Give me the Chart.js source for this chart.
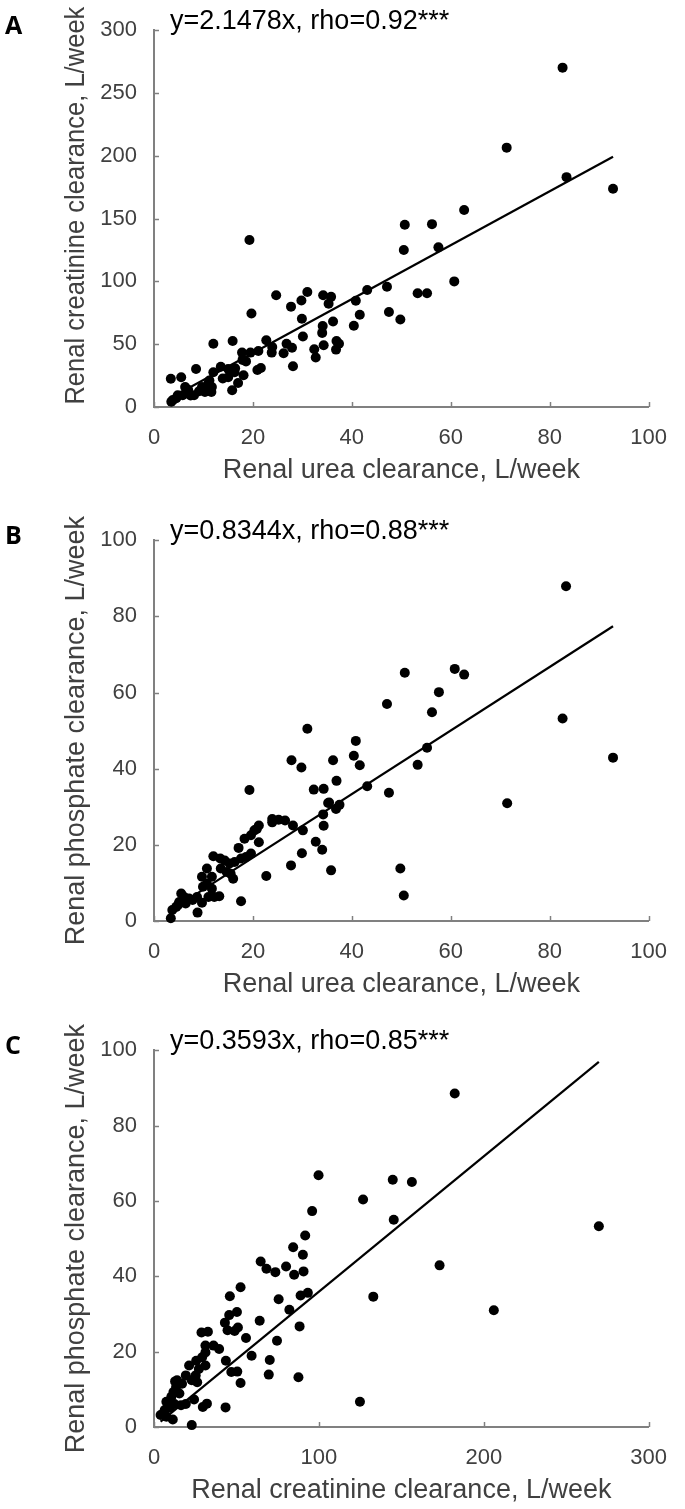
<!DOCTYPE html>
<html>
<head>
<meta charset="utf-8">
<script src="https://cdn.jsdelivr.net/npm/chart.js@4.4.1/dist/chart.umd.min.js"></script>
<style>
    html, body { margin: 0; padding: 0; background: #fff; }
    body { width: 685px; height: 1509px; position: relative; overflow: hidden; }
    canvas { position: absolute; left: 0; }
</style>
</head>
<body>
<canvas id="chart-a" width="685" height="500" style="top:0px"></canvas>
<canvas id="chart-b" width="685" height="500" style="top:510px"></canvas>
<canvas id="chart-c" width="685" height="489" style="top:1020px"></canvas>
<script>
/**
 * data (L/week)
 */
// panel A: urea (x) vs creatinine (y)
const ureaA = [83.4, 92.8, 82.6, 71.3, 62.7, 50.7, 56.2, 50.5, 57.5, 60.7, 53.3, 55.2, 47.1, 47.5, 49.8, 43.1, 40.8, 41.6, 40.4, 31.0,
    29.8, 34.2, 35.8, 35.3, 29.9, 36.2, 34.1, 34.0, 30.1, 36.9, 37.4, 36.8, 34.3, 32.4, 32.7, 28.1, 19.3, 24.7, 27.7, 19.7,
    26.8, 27.9, 26.2, 22.7, 23.9, 23.8, 21.1, 19.5, 20.9, 21.6, 15.9, 12.0, 17.8, 18.6, 17.9, 16.4, 18.1, 17.0, 15.8, 16.3,
    15.0, 13.5, 13.9, 15.0, 12.0, 8.5, 11.2, 11.7, 11.0, 11.6, 10.3, 9.1, 8.1, 7.4, 6.3, 5.5, 3.4, 5.8, 4.8, 3.8,
    3.5, 4.5, 6.9, 9.7];
const creatA = [183.0, 173.8, 270.2, 206.5, 156.9, 145.1, 145.6, 125.0, 127.1, 100.0, 90.6, 90.6, 95.8, 75.7, 69.7, 93.2, 84.6, 73.4, 64.7, 91.6,
    84.8, 89.0, 87.7, 82.2, 70.2, 68.1, 64.5, 59.0, 56.1, 52.5, 50.4, 45.7, 49.1, 46.0, 39.4, 32.4, 133.0, 89.0, 79.9, 74.4,
    50.4, 47.2, 42.8, 53.2, 47.8, 43.3, 44.6, 43.3, 29.5, 31.1, 52.5, 50.4, 43.3, 36.3, 37.5, 30.8, 25.3, 19.1, 13.3, 27.7,
    30.3, 32.1, 22.7, 23.7, 27.6, 30.3, 21.1, 15.9, 18.6, 12.0, 12.0, 12.5, 9.4, 9.1, 15.9, 23.7, 22.5, 9.4, 9.4, 5.5,
    4.2, 7.0, 13.7, 15.9];

// panel B: urea (x) vs phosphate (y)
const ureaB = [83.3, 92.8, 82.6, 50.7, 60.8, 62.7, 57.6, 47.1, 56.2, 40.8, 40.4, 55.2, 36.2, 31.0, 41.6, 29.8, 53.3, 36.9, 32.3, 34.3,
    43.1, 47.5, 35.4, 37.5, 36.8, 34.2, 71.4, 30.1, 34.3, 32.7, 34.0, 29.9, 35.8, 49.8, 50.5, 27.8, 19.3, 35.2, 23.9, 25.2,
    26.5, 28.1, 23.9, 27.7, 22.7, 21.2, 20.8, 20.3, 19.6, 21.2, 18.3, 17.1, 19.6, 18.6, 17.6, 16.3, 15.3, 14.3, 13.4, 12.0,
    13.5, 14.7, 15.5, 16.0, 11.7, 10.7, 9.7, 10.7, 9.9, 11.7, 13.2, 12.2, 11.0, 9.7, 8.7, 7.8, 8.8, 17.6, 7.1, 6.1,
    5.5, 5.1, 4.5, 3.7, 3.4, 4.9, 6.4];
const phosB = [87.9, 42.9, 53.2, 65.2, 66.2, 64.7, 60.1, 57.0, 54.8, 47.3, 43.4, 45.5, 42.2, 50.5, 40.9, 40.3, 41.0, 36.8, 34.5, 34.7,
    35.4, 33.7, 31.1, 30.5, 29.4, 28.0, 30.9, 23.8, 25.0, 20.8, 18.7, 17.8, 13.3, 13.8, 6.7, 42.2, 34.4, 31.0, 26.8, 26.6,
    26.4, 25.1, 25.9, 14.6, 11.8, 25.1, 24.2, 23.8, 22.5, 20.7, 21.6, 19.2, 17.7, 16.8, 16.4, 15.5, 15.1, 15.9, 16.4, 17.0,
    13.8, 12.9, 12.4, 11.1, 11.6, 13.8, 11.6, 9.8, 9.0, 8.5, 6.5, 6.3, 6.3, 4.8, 6.3, 5.5, 2.2, 5.2, 5.9, 6.3,
    7.2, 5.0, 3.7, 2.9, 0.7, 4.3, 4.6];

// panel C: creatinine (x) vs phosphate (y)
const creatC = [173.2, 133.0, 206.1, 124.9, 182.4, 144.8, 156.4, 126.8, 145.4, 269.8, 99.8, 95.9, 91.7, 84.4, 90.3, 64.7, 68.2, 73.6, 80.1, 85.0,
    90.7, 88.9, 93.3, 75.6, 82.1, 64.1, 88.3, 74.6, 59.2, 70.2, 69.6, 87.6, 52.5, 46.0, 50.3, 45.6, 43.0, 50.9, 44.6, 48.9,
    55.8, 43.6, 46.9, 50.5, 52.5, 43.4, 36.1, 39.5, 28.8, 32.7, 31.2, 31.2, 29.2, 25.6, 31.2, 27.2, 25.3, 21.3, 19.3, 22.9,
    26.2, 17.0, 14.0, 13.4, 11.8, 15.4, 10.5, 7.5, 9.5, 12.4, 16.4, 19.3, 5.5, 4.0, 7.5, 11.4, 6.5, 9.5, 22.9, 24.3,
    29.6, 32.1, 12.8];
const phosC = [42.9, 34.6, 31.0, 6.7, 88.5, 65.6, 65.0, 60.4, 55.0, 53.3, 66.8, 57.3, 50.8, 47.7, 45.7, 43.9, 42.0, 41.1, 42.6, 40.4,
    41.3, 34.9, 35.6, 33.9, 31.1, 28.2, 26.7, 22.9, 18.9, 17.8, 13.9, 13.2, 37.1, 34.7, 30.5, 29.7, 27.7, 26.4, 25.7, 25.5,
    23.6, 17.6, 14.6, 14.7, 11.7, 5.2, 21.6, 20.7, 25.1, 25.3, 21.6, 19.8, 18.5, 17.6, 16.3, 15.4, 13.7, 16.3, 13.7, 12.4,
    11.9, 11.5, 12.4, 10.6, 9.3, 8.9, 8.0, 6.7, 6.2, 6.1, 5.8, 6.1, 3.6, 3.2, 2.7, 2.0, 4.5, 5.1, 0.5, 7.3,
    5.3, 6.2, 12.1];

// fitted lines, end points as drawn
const fitA = [[3.4, 7.3], [92.8, 199.3]];
const fitB = [[3.4, 2.8], [92.8, 77.4]];
const fitC = [[4.0, 1.4], [269.8, 96.9]];

// ticks
const ticks100 = [0, 20, 40, 60, 80, 100];
const ticks300 = [0, 50, 100, 150, 200, 250, 300];
const ticksCreatX = [0, 100, 200, 300];

const axisGrey = "#808080";
const labelGrey = "#404040";
const fontFamily = "'Liberation Sans', Arial, sans-serif";

// draws inward ticks, titles, equation text and the panel letter
function decoPlugin(p) {
    return {
        id: "deco" + p.letter,
        afterDraw(chart) {
            const { ctx, chartArea: a, scales } = chart;
            ctx.save();
            ctx.strokeStyle = axisGrey;
            ctx.lineWidth = 1.5;
            scales.x.ticks.forEach(t => {
                const px = Math.round(scales.x.getPixelForValue(t.value)) + 0.5;
                ctx.beginPath();
                ctx.moveTo(px, a.bottom);
                ctx.lineTo(px, a.bottom - 5);
                ctx.stroke();
            });
            scales.y.ticks.forEach(t => {
                const py = Math.round(scales.y.getPixelForValue(t.value)) + 0.5;
                ctx.beginPath();
                ctx.moveTo(a.left, py);
                ctx.lineTo(a.left + 5, py);
                ctx.stroke();
            });

            ctx.fillStyle = labelGrey;
            ctx.font = "27px " + fontFamily;
            ctx.textAlign = "center";
            ctx.textBaseline = "middle";
            ctx.fillText(p.xTitle, (a.left + a.right) / 2, a.bottom + 64);

            // y title (A is a bit squeezed and sits higher in the original)
            ctx.save();
            ctx.translate(77, (a.top + a.bottom) / 2 + p.yTitleShift);
            ctx.rotate(-Math.PI / 2);
            ctx.fillText(p.yTitle, 0, 0, p.yTitleMax);
            ctx.restore();

            ctx.fillStyle = "#000";
            ctx.textAlign = "left";
            ctx.fillText(p.note, 170, a.top - 9);

            ctx.font = "bold 25px 'Open Sans', Lato, sans-serif";
            ctx.fillText(p.letter, 5, a.top - 3);
            ctx.restore();
        }
    };
}

function toPoints(xs, ys) {
    return xs.map((x, i) => ({ x: x, y: ys[i] }));
}

function initPanel(p) {
    const ctx = document.getElementById(p.id).getContext("2d");
    const canvasHeight = ctx.canvas.height;

    new Chart(ctx, {
        type: "scatter",
        data: {
            datasets: [
                {
                    type: "line",
                    data: p.fit.map(d => ({ x: d[0], y: d[1] })),
                    borderColor: "#000",
                    borderWidth: 2.2,
                    pointRadius: 0,
                    fill: false,
                    clip: false
                },
                {
                    data: toPoints(p.xs, p.ys),
                    backgroundColor: "#000",
                    borderColor: "#000",
                    borderWidth: 0,
                    pointRadius: 5,
                    clip: false
                }
            ]
        },
        options: {
            responsive: false,
            animation: false,
            devicePixelRatio: 1,
            layout: { padding: { top: p.top, right: 24, left: 0, bottom: 0 } },
            plugins: {
                legend: { display: false },
                tooltip: { enabled: false }
            },
            scales: {
                x: {
                    type: "linear",
                    min: p.xTicks[0],
                    max: p.xTicks[p.xTicks.length - 1],
                    afterBuildTicks: s => { s.ticks = p.xTicks.map(v => ({ value: v })); },
                    afterFit: s => { s.height = canvasHeight - p.bottom; },
                    grid: { display: false, drawTicks: false },
                    border: { color: axisGrey, width: 2 },
                    ticks: {
                        color: labelGrey,
                        padding: 18,
                        maxRotation: 0,
                        font: { family: fontFamily, size: 22 }
                    }
                },
                y: {
                    type: "linear",
                    min: p.yTicks[0],
                    max: p.yTicks[p.yTicks.length - 1],
                    afterBuildTicks: s => { s.ticks = p.yTicks.map(v => ({ value: v })); },
                    afterFit: s => { s.width = 154; },
                    grid: { display: false, drawTicks: false },
                    border: { color: axisGrey, width: 2 },
                    ticks: {
                        color: labelGrey,
                        padding: 17,
                        font: { family: fontFamily, size: 22 }
                    }
                }
            }
        },
        plugins: [decoPlugin(p)]
    });
}

initPanel({
    id: "chart-a", letter: "A", top: 24, bottom: 407,
    xs: ureaA, ys: creatA, fit: fitA, xTicks: ticks100, yTicks: ticks300,
    note: "y=2.1478x, rho=0.92***",
    xTitle: "Renal urea clearance, L/week",
    yTitle: "Renal creatinine clearance, L/week",
    yTitleShift: -13, yTitleMax: 398
});

initPanel({
    id: "chart-b", letter: "B", top: 28, bottom: 411,
    xs: ureaB, ys: phosB, fit: fitB, xTicks: ticks100, yTicks: ticks100,
    note: "y=0.8344x, rho=0.88***",
    xTitle: "Renal urea clearance, L/week",
    yTitle: "Renal phosphate clearance, L/week",
    yTitleShift: 0, yTitleMax: 440
});

initPanel({
    id: "chart-c", letter: "C", top: 28, bottom: 407,
    xs: creatC, ys: phosC, fit: fitC, xTicks: ticksCreatX, yTicks: ticks100,
    note: "y=0.3593x, rho=0.85***",
    xTitle: "Renal creatinine clearance, L/week",
    yTitle: "Renal phosphate clearance, L/week",
    yTitleShift: 0, yTitleMax: 440
});
</script>
</body>
</html>
